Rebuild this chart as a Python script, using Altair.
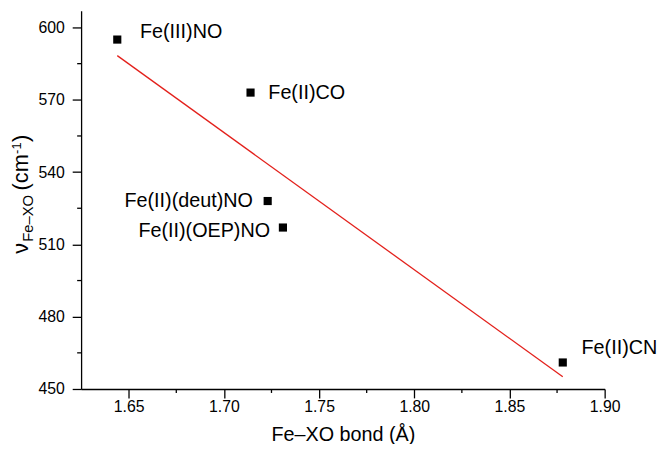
import altair as alt
import pandas as pd

# ---- data ----
names = ["Fe(III)NO", "Fe(II)CO", "Fe(II)(deut)NO", "Fe(II)(OEP)NO", "Fe(II)CN"]
bond = [1.644, 1.714, 1.723, 1.731, 1.878]
freq = [595, 573, 528, 517, 461]

x_major = [1.65, 1.70, 1.75, 1.80, 1.85, 1.90]
x_minor = [1.675, 1.725, 1.775, 1.825, 1.875]
y_major = [450, 480, 510, 540, 570, 600]
y_minor = [465, 495, 525, 555, 585]

df = pd.DataFrame({"name": names, "bond": bond, "freq": freq})
xminor_df = pd.DataFrame({"bond": x_minor})
yminor_df = pd.DataFrame({"freq": y_minor})

FONT = "Liberation Sans"
W, H = 530, 383

x_axis = alt.Axis(
    values=x_major, format=".2f",
    tickSize=9, grid=False,
    title="Fe\u2013XO bond (\u00c5)",
    labelFont=FONT, labelFontSize=16, labelColor="black", labelPadding=1,
    titleFont=FONT, titleFontSize=20, titleFontWeight="normal", titleColor="black",
    titlePadding=10,
    domainColor="black", domainWidth=1.3, tickColor="black", tickWidth=1.3,
    labelFlush=False, labelOverlap=False,
)
y_axis = alt.Axis(
    values=y_major, format="d",
    tickSize=9, grid=False,
    title=None,
    labelFont=FONT, labelFontSize=16, labelColor="black", labelPadding=8,
    domainColor="black", domainWidth=1.3, tickColor="black", tickWidth=1.3,
    labelFlush=False, labelOverlap=False,
)

X = alt.X("bond:Q", scale=alt.Scale(domain=[1.625, 1.90], nice=False, zero=False), axis=x_axis)
Y = alt.Y("freq:Q", scale=alt.Scale(domain=[450, 607], nice=False, zero=False), axis=y_axis)

base = alt.Chart(df)

fit = base.transform_regression("bond", "freq").mark_line(
    color="#e3201b", strokeWidth=1.3
).encode(x=X, y=Y)

pts = base.mark_square(size=68, color="black", opacity=1).encode(x=X, y=Y)

# minor ticks
xminor = alt.Chart(xminor_df).mark_rule(color="black", strokeWidth=1.3).encode(
    x=X, y=alt.value(H), y2=alt.value(H + 4)
)
yminor = alt.Chart(yminor_df).mark_rule(color="black", strokeWidth=1.3).encode(
    y=Y, x=alt.value(0), x2=alt.value(-4)
)

label_cfg = [
    ("Fe(III)NO", "left", 23, -8),
    ("Fe(II)CO", "left", 18, 0),
    ("Fe(II)(deut)NO", "right", -15, 0),
    ("Fe(II)(OEP)NO", "right", -13, 4),
    ("Fe(II)CN", "left", 19, -15),
]
label_layers = []
for nm, al, ddx, ddy in label_cfg:
    label_layers.append(
        base.transform_filter(alt.datum.name == nm).mark_text(
            align=al, baseline="middle", dx=ddx, dy=ddy,
            font=FONT, fontSize=20, color="black"
        ).encode(x=X, y=Y, text="name:N")
    )

# rotated y-axis title with subscript / superscript pieces
one = pd.DataFrame({"k": [0]})
title_pieces = [
    ("\u03bd", 22, -54, 246),
    ("Fe\u2013XO", 15, -49, 234),
    ("(cm", 22, -54, 182),
    ("-1", 13, -61, 145),
    (")", 22, -54, 133),
]
title_layers = []
for txt, fs, px, py in title_pieces:
    title_layers.append(
        alt.Chart(one).mark_text(
            angle=270, align="left", baseline="alphabetic",
            font=FONT, fontSize=fs, color="black"
        ).encode(x=alt.value(px), y=alt.value(py), text=alt.value(txt))
    )

chart = alt.layer(fit, xminor, yminor, pts, *label_layers, *title_layers).properties(
    width=W, height=H,
    autosize=alt.AutoSizeParams(type="none"),
    padding={"left": 74, "top": 0, "right": 54, "bottom": 53},
    background="white",
).configure_view(stroke=None)

chart.save("out.html", embed_options={"renderer": "svg", "actions": False})
